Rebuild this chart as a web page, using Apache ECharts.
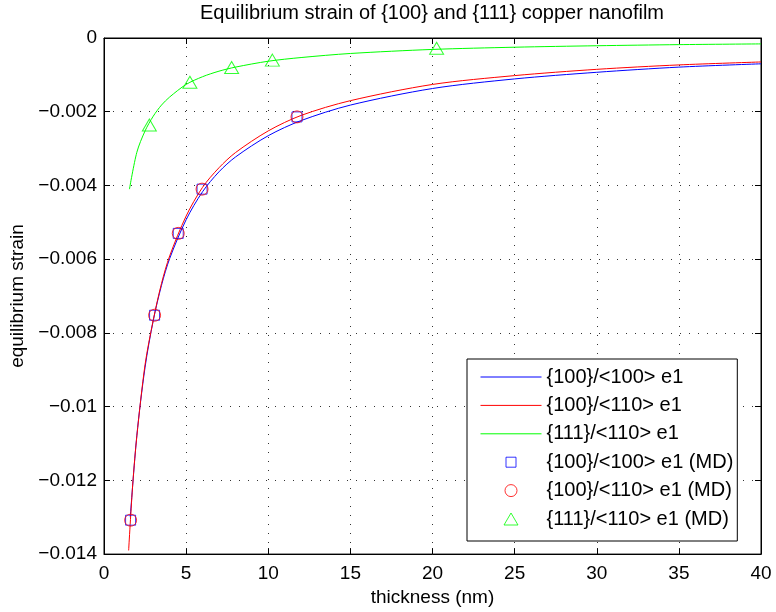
<!DOCTYPE html>
<html><head><meta charset="utf-8">
<script src="https://cdn.jsdelivr.net/npm/echarts@6/dist/echarts.min.js"></script>
<style>html,body{margin:0;padding:0;background:#fff}#c{width:776px;height:612px}</style>
</head><body><div id="c"></div>
<script>
// ---- data ----
const titleText = 'Equilibrium strain of {100} and {111} copper nanofilm';
const xName = 'thickness (nm)';
const yName = 'equilibrium strain';
const seriesNames = ['{100}/<100> e1', '{100}/<110> e1', '{111}/<110> e1',
  '{100}/<100> e1 (MD)', '{100}/<110> e1 (MD)', '{111}/<110> e1 (MD)'];

const blueX = [1.6, 2.0, 2.5, 3.0, 3.5, 4.0, 5.0, 6.0, 7.0, 8.0, 10.0, 12.0, 15.0, 20.0, 25.0, 30.0, 35.0, 40.0];
const blueY = [-0.0130, -0.01078, -0.00893, -0.00766, -0.00671, -0.00598, -0.00493, -0.00417, -0.00363, -0.00323, -0.00265, -0.00224, -0.00182, -0.00137, -0.00111, -0.00093, -0.00079, -0.00070];

const redX = [1.5, 1.75, 2.0, 2.5, 3.0, 3.5, 4.0, 5.0, 6.0, 7.0, 8.0, 10.0, 12.0, 15.0, 20.0, 25.0, 30.0, 35.0, 40.0];
const redY = [-0.0139, -0.0121, -0.0108, -0.00886, -0.00765, -0.00666, -0.00591, -0.00483, -0.00405, -0.00352, -0.00311, -0.00252, -0.00210, -0.00170, -0.00126, -0.00102, -0.00085, -0.00073, -0.00065];

const greenX = [1.55, 2.0, 2.5, 3.0, 3.5, 4.0, 5.0, 6.0, 7.0, 8.0, 10.0, 12.0, 15.0, 20.0, 25.0, 30.0, 35.0, 40.0];
const greenY = [-0.0041, -0.0031, -0.00252, -0.00212, -0.00182, -0.0016, -0.00126, -0.00105, -0.0009, -0.00079, -0.00063, -0.00053, -0.00042, -0.00031, -0.00025, -0.00021, -0.00018, -0.00016];

const mdSquareX = [1.62, 3.08, 4.52, 5.97, 11.75];
const mdSquareY = [-0.01308, -0.00752, -0.0053, -0.0041, -0.00214];
const mdCircleX = [1.62, 3.08, 4.52, 5.97, 11.75];
const mdCircleY = [-0.01308, -0.00752, -0.0053, -0.0041, -0.00214];
const mdTriX = [2.76, 5.23, 7.77, 10.25, 20.25];
const mdTriY = [-0.00236, -0.0012, -0.0008, -0.0006, -0.00028];

const xMin = 0, xMax = 40, xStep = 5;
const yMin = -0.014, yMax = 0, yStep = 0.002;

// ---- chart ----
const FONT = 'Liberation Sans, Arial, Helvetica, sans-serif';
const FS = 19;
const zip = (a, b) => a.map((v, i) => [v, b[i]]);
const yFmt = v => (Math.abs(v) < 1e-12 ? '0' : '\u2212' + parseFloat(Math.abs(v).toFixed(4)).toString());

const tickStyle = { show: true, inside: true, length: 6, lineStyle: { color: '#000', width: 1 } };
const grid = { left: 104, right: 15, top: 38, bottom: 56, show: true, borderColor: '#000', borderWidth: 1, backgroundColor: '#fff' };

const lineS = (name, x, y, color) => ({
  name, type: 'line', xAxisIndex: 0, yAxisIndex: 0, data: zip(x, y), symbol: 'none', showSymbol: false,
  smooth: 0.3, lineStyle: { color, width: 1 }, itemStyle: { color }, z: 3, silent: true
});
const scatS = (name, x, y, color, symbol, size) => ({
  name, type: 'scatter', xAxisIndex: 0, yAxisIndex: 0, data: zip(x, y), symbol, symbolSize: size,
  itemStyle: { color: 'rgba(0,0,0,0)', borderColor: color, borderWidth: 1 }, z: 4, silent: true
});

const hideSym = { color: 'rgba(0,0,0,0)', borderWidth: 0 };
// legend icons: the first two moves fix the icon box to itemWidth x itemHeight so the marker keeps its size
const iconSquare = 'path://M0,0M61,12M25.5,1L35.5,1L35.5,11L25.5,11Z';
const iconTriangle = 'path://M0,0M61,12M30.5,0L37.5,12L23.5,12Z';

const option = {
  animation: false,
  backgroundColor: '#fff',
  textStyle: { fontFamily: FONT },
  title: {
    text: titleText, left: 200, top: 3, padding: 0,
    textStyle: { fontFamily: FONT, fontSize: 20, fontWeight: 'normal', color: '#000' }
  },
  grid,
  xAxis: [{
    type: 'value', min: xMin, max: xMax, interval: xStep, position: 'bottom',
    name: xName, nameLocation: 'middle', nameGap: 32,
    nameTextStyle: { fontFamily: FONT, fontSize: FS, color: '#000' },
    axisLine: { show: true, onZero: false, lineStyle: { color: '#000', width: 1 } },
    axisTick: tickStyle,
    axisLabel: { fontFamily: FONT, fontSize: FS, color: '#000', margin: 10 },
    splitLine: { show: true, lineStyle: { color: '#333', width: 1, type: [1, 8] } }
  }, {
    type: 'value', min: xMin, max: xMax, interval: xStep, position: 'top',
    axisLine: { show: true, onZero: false, lineStyle: { color: '#000', width: 1 } },
    axisTick: tickStyle, axisLabel: { show: false }, splitLine: { show: false }
  }],
  yAxis: [{
    type: 'value', min: yMin, max: yMax, interval: yStep, position: 'left',
    name: yName, nameLocation: 'middle', nameGap: 76, nameRotate: 90,
    nameTextStyle: { fontFamily: FONT, fontSize: FS, color: '#000' },
    axisLine: { show: true, onZero: false, lineStyle: { color: '#000', width: 1 } },
    axisTick: tickStyle,
    axisLabel: { fontFamily: FONT, fontSize: FS, color: '#000', margin: 7, formatter: yFmt },
    splitLine: { show: true, lineStyle: { color: '#333', width: 1, type: [1, 8] } }
  }, {
    type: 'value', min: yMin, max: yMax, interval: yStep, position: 'right',
    axisLine: { show: true, onZero: false, lineStyle: { color: '#000', width: 1 } },
    axisTick: tickStyle, axisLabel: { show: false }, splitLine: { show: false }
  }],
  legend: {
    orient: 'vertical', left: 467, top: 359,
    padding: [8, 4, 12, 13],
    itemWidth: 61, itemHeight: 12, itemGap: 8.4,
    symbolKeepAspect: true,
    backgroundColor: '#fff', borderColor: '#000', borderWidth: 1, borderRadius: 0,
    selectedMode: false,
    itemStyle: { borderWidth: 1 },
    lineStyle: { width: 1 },
    textStyle: { fontFamily: FONT, fontSize: 20, color: '#000', lineHeight: 20 },
    data: [
      { name: seriesNames[0], itemStyle: hideSym },
      { name: seriesNames[1], itemStyle: hideSym },
      { name: seriesNames[2], itemStyle: hideSym },
      { name: seriesNames[3], icon: iconSquare },
      { name: seriesNames[4] },
      { name: seriesNames[5], icon: iconTriangle }
    ]
  },
  series: [
    lineS(seriesNames[0], blueX, blueY, '#0000ff'),
    lineS(seriesNames[1], redX, redY, '#ff0000'),
    lineS(seriesNames[2], greenX, greenY, '#00ff00'),
    scatS(seriesNames[3], mdSquareX, mdSquareY, '#0000ff', 'rect', 10),
    scatS(seriesNames[4], mdCircleX, mdCircleY, '#ff0000', 'circle', 12),
    scatS(seriesNames[5], mdTriX, mdTriY, '#00ff00', 'triangle', [14, 12])
  ]
};
const chart = echarts.init(document.getElementById('c'), null, { renderer: 'canvas' });
chart.setOption(option);
</script></body></html>
